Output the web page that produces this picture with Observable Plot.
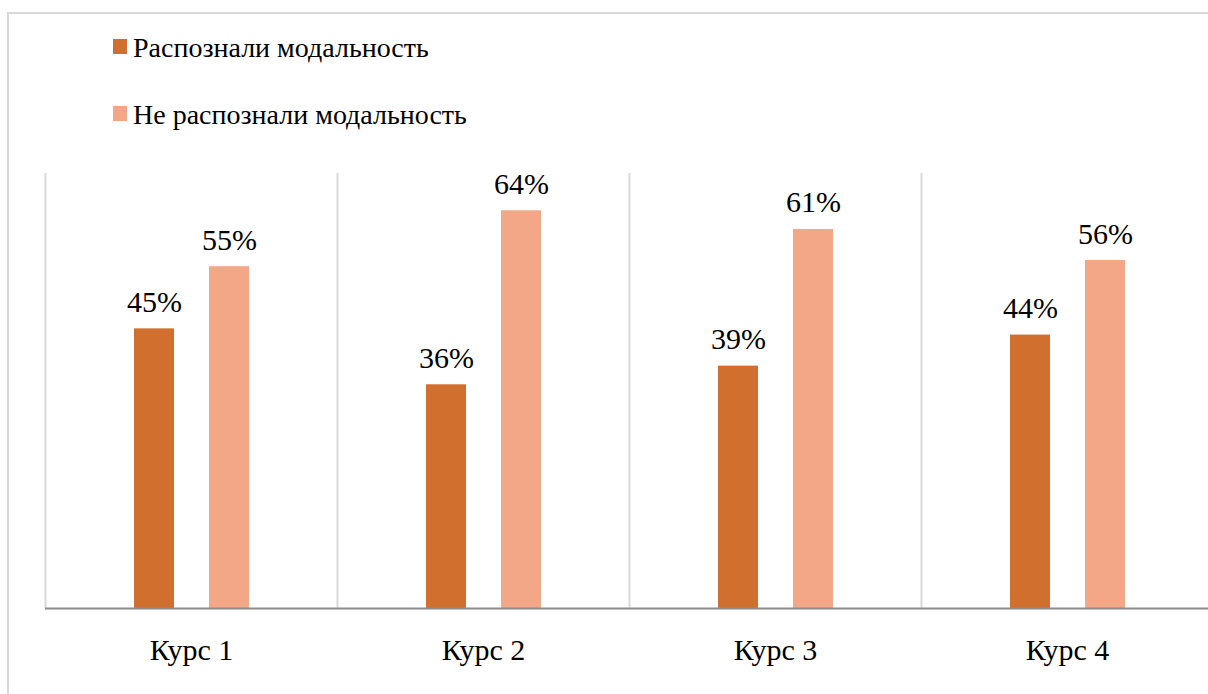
<!DOCTYPE html>
<html>
<head>
<meta charset="utf-8">
<script src="https://cdn.jsdelivr.net/npm/d3@7"></script>
<script src="https://cdn.jsdelivr.net/npm/@observablehq/plot@0.6"></script>
<style>
  html, body { margin: 0; padding: 0; background: #fff; overflow: hidden; width: 1208px; height: 694px; }
  #frame { position: absolute; left: 7px; top: 12px; width: 1400px; height: 900px; border: 2px solid #d9d9d9; box-sizing: border-box; }
  #legend { position: relative; height: 150px; font-family: "Liberation Serif", "Tinos", "DejaVu Serif", serif; font-size: 28px; color: #000; }
  .item { position: absolute; left: 113px; white-space: nowrap; line-height: 1; }
  .sw { position: absolute; left: 0; width: 14px; height: 15px; }
  .lbl { position: absolute; left: 20px; top: 0; }
  #chart { position: relative; }
</style>
</head>
<body>
<div id="frame"></div>
<div id="legend"></div>
<div id="chart"></div>
<script>
const categories = ["Курс 1", "Курс 2", "Курс 3", "Курс 4"];
const series = ["Распознали модальность", "Не распознали модальность"];
const recognized = [45, 36, 39, 44];
const notRecognized = [55, 64, 61, 56];
const colors = ["#d06f2e", "#f3a787"];

const rows = [];
categories.forEach((c, i) => {
  rows.push({course: c, series: series[0], value: recognized[i]});
  rows.push({course: c, series: series[1], value: notRecognized[i]});
});

// legend
const legend = document.getElementById("legend");
const legendTops = [34, 101];
series.forEach((s, i) => {
  const item = document.createElement("div");
  item.className = "item";
  item.style.top = legendTops[i] + "px";
  item.innerHTML = `<span class="sw" style="background:${colors[i]};top:5px"></span><span class="lbl">${s}</span>`;
  legend.appendChild(item);
});

const font = "'Liberation Serif', 'Tinos', 'DejaVu Serif', serif";
const band = 292;
const leftInset = [89, 164];
const rightInset = [band - 129, band - 204];
const labelDx = [-37, 38];

const marks = [
  Plot.ruleX(categories, {x: d => d, dx: -band / 2, y1: 0, y2: 70, stroke: "#d9d9d9", strokeWidth: 2}),
];
series.forEach((s, i) => {
  const data = rows.filter(r => r.series === s);
  marks.push(Plot.barY(data, {x: "course", y: "value", fill: colors[i], insetLeft: leftInset[i], insetRight: rightInset[i]}));
  marks.push(Plot.text(data, {x: "course", y: "value", text: d => d.value + "%", dx: labelDx[i], dy: -17, lineAnchor: "bottom", fontSize: 30, fill: "#000"}));
});
marks.push(Plot.ruleY([0], {stroke: "#8c8c8c", strokeWidth: 2}));
marks.push(Plot.axisX({tickSize: 0, tickPadding: 30, fontSize: 30, fill: "#000", label: null}));

const chart = Plot.plot({
  width: 1208,
  height: 544,
  marginTop: 23,
  marginBottom: 86,
  marginLeft: 45,
  marginRight: 0,
  x: {domain: categories, range: [45, 1213], padding: 0, round: false, label: null},
  y: {domain: [0, 70], axis: null},
  style: {background: "transparent", fontFamily: font, color: "#000", overflow: "visible"},
  marks
});
document.getElementById("chart").appendChild(chart);
</script>
</body>
</html>
